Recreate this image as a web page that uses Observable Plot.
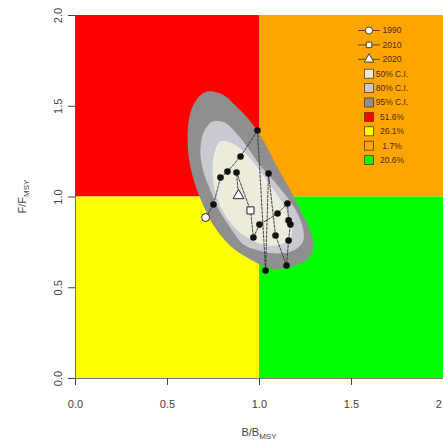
<!DOCTYPE html>
<html><head><meta charset="utf-8">
<script src="https://cdn.jsdelivr.net/npm/d3@7"></script>
<script src="https://cdn.jsdelivr.net/npm/@observablehq/plot@0.6"></script>
<style>html,body{margin:0;padding:0;background:#fff;overflow:hidden;} #chart svg{display:block;}</style>
</head><body><div id="chart"></div>
<script>
// Quadrants (Kobe plot)
const quadX1 = [0, 1, 0, 1];
const quadX2 = [1, 2, 1, 2];
const quadY1 = [1, 1, 0, 0];
const quadY2 = [2, 2, 1, 1];
const quadColors = ["#ff0000", "#ffa500", "#ffff00", "#00ff00"];
const quadPct = ["51.6%", "1.7%", "26.1%", "20.6%"];

// Confidence regions
const ci95B = [0.717,0.799,0.880,0.951,1.011,1.098,1.168,1.234,1.277,1.293,1.277,1.234,1.158,1.060,0.951,0.859,0.799,0.734,0.690,0.652,0.620,0.609,0.625,0.663];
const ci95F = [1.581,1.565,1.493,1.416,1.328,1.163,1.036,0.904,0.815,0.733,0.672,0.639,0.612,0.606,0.656,0.716,0.777,0.871,0.964,1.063,1.190,1.339,1.466,1.543];
const ci80B = [0.745,0.810,0.880,0.940,0.995,1.076,1.152,1.207,1.239,1.234,1.185,1.103,1.016,0.913,0.837,0.772,0.734,0.696,0.679,0.696];
const ci80F = [1.416,1.410,1.344,1.267,1.185,1.091,0.997,0.909,0.815,0.749,0.705,0.689,0.700,0.738,0.837,0.942,1.036,1.135,1.245,1.355];
const ci50B = [0.788,0.853,0.908,0.989,1.076,1.147,1.179,1.163,1.114,1.038,0.951,0.864,0.793,0.755,0.745,0.755];
const ci50F = [1.306,1.295,1.256,1.163,1.041,0.926,0.826,0.766,0.738,0.733,0.766,0.832,0.937,1.047,1.157,1.245];
const ciLabels = ["50% C.I.", "80% C.I.", "95% C.I."];
const ciColors = ["#ecebdc", "#c9c9d1", "#8f8f8f"];

// Trajectory B/Bmsy, F/Fmsy (in order)
const trajB = [0.707,0.750,0.788,0.826,0.897,0.989,1.033,1.049,1.087,1.147,1.158,1.168,1.158,1.152,1.098,1.000,0.967,0.951,0.875,0.886];
const trajF = [0.887,0.959,1.107,1.140,1.223,1.366,0.595,1.129,0.788,0.623,0.760,0.848,0.871,0.964,0.909,0.848,0.777,0.926,1.135,1.008];

// Highlighted years
const keyYears = ["1990", "2010", "2020"];
const keyB = [0.707, 0.951, 0.886];
const keyF = [0.887, 0.926, 1.008];
const keySymbols = ["circle", "square", "triangle"];

const xTicks = [0, 0.5, 1, 1.5, 2];
const yTicks = [0, 0.5, 1, 1.5, 2];

const quads = quadColors.map((c, i) => ({x1: quadX1[i], x2: quadX2[i], y1: quadY1[i], y2: quadY2[i], color: c}));
const toPts = (bs, fs) => bs.map((b, i) => ({b, f: fs[i]}));
const traj = toPts(trajB, trajF);
const keyPts = keyYears.map((y, i) => ({year: y, b: keyB[i], f: keyF[i], symbol: keySymbols[i]}));
const isKey = (d) => keyPts.some(k => k.b === d.b && k.f === d.f);
const blackPts = traj.filter(d => !isKey(d));

const font = "'Liberation Sans', Arial, Helvetica, sans-serif";

const chart = Plot.plot({
  width: 443, height: 446,
  marginLeft: 75, marginRight: 0, marginTop: 15, marginBottom: 68,
  x: {domain: [0, 2]},
  y: {domain: [0, 2]},
  color: {type: "identity"},
  style: {fontFamily: font, background: "#fff"},
  marks: [
    Plot.rect(quads, {x1: "x1", x2: "x2", y1: "y1", y2: "y2", fill: "color"}),
    Plot.line(toPts(ci95B, ci95F), {x: "b", y: "f", curve: "catmull-rom-closed", fill: ciColors[2], stroke: "none"}),
    Plot.line(toPts(ci80B, ci80F), {x: "b", y: "f", curve: "catmull-rom-closed", fill: ciColors[1], stroke: "none"}),
    Plot.line(toPts(ci50B, ci50F), {x: "b", y: "f", curve: "catmull-rom-closed", fill: ciColors[0], stroke: "none"}),
    Plot.line(traj, {x: "b", y: "f", stroke: "#333", strokeWidth: 0.9, strokeDasharray: "2.5,1.5"}),
    Plot.dot(blackPts, {x: "b", y: "f", r: 3.3, fill: "#111", stroke: "none"}),
    Plot.dot(keyPts, {x: "b", y: "f", symbol: "symbol", r: 4, fill: "#fff", stroke: "#222", strokeWidth: 1}),
    Plot.axisX({ticks: xTicks, tickFormat: d3.format(".1f"), tickSize: 7, tickPadding: 15, fontSize: 11, color: "#444", label: null}),
    Plot.axisY({ticks: yTicks, tickFormat: d3.format(".1f"), tickSize: 7, tickPadding: 7, tickRotate: -90, fontSize: 11, color: "#444", label: null}),
    Plot.ruleX([0], {y1: 0, y2: 2, stroke: "#555", strokeWidth: 0.8}),
    Plot.ruleY([0], {x1: 0, x2: 2, stroke: "#555", strokeWidth: 0.8})
  ]
});

document.getElementById("chart").appendChild(chart);

// Axis titles and legend
const svg = d3.select(chart);
const xs = chart.scale("x"), ys = chart.scale("y");
const xMid = (xs.apply(0) + xs.apply(2)) / 2;
const yMid = (ys.apply(0) + ys.apply(2)) / 2;

const xt = svg.append("text").attr("x", xMid).attr("y", 436).attr("text-anchor", "middle")
  .attr("font-family", font).attr("font-size", 11).attr("fill", "#444");
xt.append("tspan").text("B/B");
xt.append("tspan").attr("font-size", 8).attr("dy", 3).text("MSY");

const yt = svg.append("text").attr("transform", `translate(26,${yMid}) rotate(-90)`).attr("text-anchor", "middle")
  .attr("font-family", font).attr("font-size", 11).attr("fill", "#444");
yt.append("tspan").text("F/F");
yt.append("tspan").attr("font-size", 8).attr("dy", 3).text("MSY");

// Legend
const legendItems = [
  ...keyYears.map((y, i) => ({label: y, kind: "line", symbol: keySymbols[i]})),
  ...ciLabels.map((l, i) => ({label: l, kind: "box", fill: ciColors[i]})),
  {label: quadPct[0], kind: "box", fill: quadColors[0]},
  {label: quadPct[2], kind: "box", fill: quadColors[2]},
  {label: quadPct[1], kind: "box", fill: quadColors[1]},
  {label: quadPct[3], kind: "box", fill: quadColors[3]}
];
const lg = svg.append("g");
const lx = 369, ly0 = 30.5, lstep = 14.4;
legendItems.forEach((it, i) => {
  const y = ly0 + i * lstep;
  if (it.kind === "line") {
    lg.append("line").attr("x1", lx - 11).attr("x2", lx + 11).attr("y1", y).attr("y2", y).attr("stroke", "#333").attr("stroke-width", 0.8);
    const sym = {circle: d3.symbolCircle, square: d3.symbolSquare, triangle: d3.symbolTriangle}[it.symbol];
    lg.append("path").attr("d", d3.symbol(sym, it.symbol === "square" ? 30 : 40)()).attr("transform", `translate(${lx},${y})`)
      .attr("fill", "#fff").attr("stroke", "#333").attr("stroke-width", 0.9);
  } else {
    lg.append("rect").attr("x", lx - 4.5).attr("y", y - 4.5).attr("width", 9).attr("height", 9)
      .attr("fill", it.fill).attr("stroke", "#5a3a10").attr("stroke-width", 0.8);
  }
  lg.append("text").attr("x", 392).attr("y", y).attr("dy", "0.35em").attr("font-family", font).attr("font-size", 8.5)
    .attr("fill", "#4a2c0a").text(it.label);
});
</script>
</body></html>
